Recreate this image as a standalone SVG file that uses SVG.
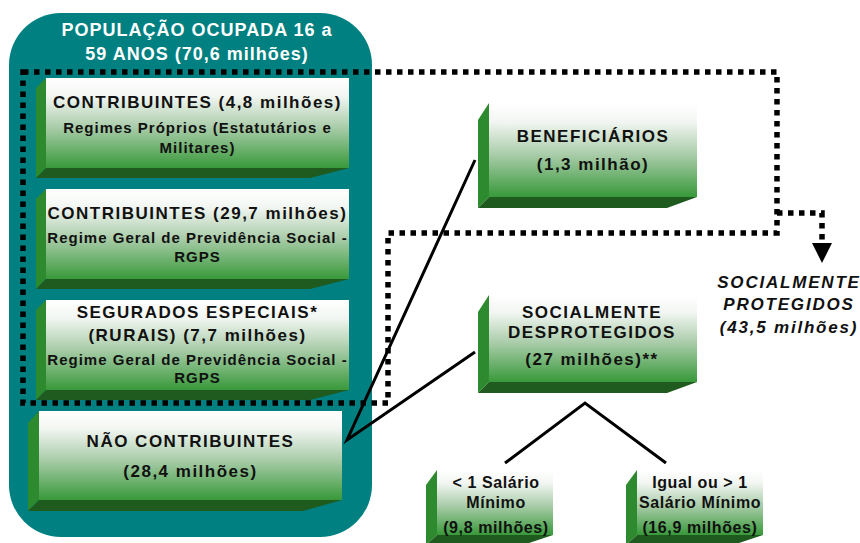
<svg xmlns="http://www.w3.org/2000/svg" width="860" height="543" viewBox="0 0 860 543">
<defs>
<linearGradient id="face" x1="0" y1="0" x2="0" y2="1">
<stop offset="0" stop-color="#ffffff"/>
<stop offset="0.2" stop-color="#f2f6f2"/>
<stop offset="0.55" stop-color="#a9cca9"/>
<stop offset="1" stop-color="#38993a"/>
</linearGradient>
<style>
.face{fill:url(#face)}
.lb{fill:#2e8a2e}
.bb{fill:#1f5b1f}
text{font-family:"Liberation Sans",Arial,sans-serif;font-weight:bold;fill:#111;text-anchor:middle}
.h{font-size:17px;letter-spacing:1.5px}
.s{font-size:15px;letter-spacing:1px}
.m{font-size:16px;letter-spacing:0.6px}
.t{font-size:18px;letter-spacing:1px;fill:#fff}
.p{font-size:17px;letter-spacing:1.8px;font-style:italic}
.ln{stroke:#000;stroke-width:3;fill:none}
.dot{stroke:#000;stroke-width:5.5;fill:none;stroke-dasharray:5.5 5.5}
</style>
</defs>
<g id="populacao">
<rect x="9" y="13" width="363" height="524" rx="52" ry="52" fill="#008080"/>
<text class="t" x="197" y="36">POPULAÇÃO OCUPADA 16 a</text>
<text class="t" x="197" y="60">59 ANOS (70,6 milhões)</text>
</g>
<g id="contrib1">
<polygon class="lb" points="46,78 36,88 36,178 46,168"/>
<polygon class="bb" points="36,178 46,168 349,168 310,178"/>
<rect class="face" x="46" y="78" width="303" height="90"/>
<text class="h" x="197.5" y="108">CONTRIBUINTES (4,8 milhões)</text>
<text class="s" x="197.5" y="133">Regimes Próprios (Estatutários e</text>
<text class="s" x="197.5" y="153">Militares)</text>
</g>
<g id="contrib2">
<polygon class="lb" points="46,189 36,199 36,289 46,279"/>
<polygon class="bb" points="36,289 46,279 349,279 310,289"/>
<rect class="face" x="46" y="189" width="303" height="90"/>
<text class="h" x="197.5" y="219">CONTRIBUINTES (29,7 milhões)</text>
<text class="s" x="197.5" y="243">Regime Geral de Previdência Social -</text>
<text class="s" x="197.5" y="262">RGPS</text>
</g>
<g id="segurados">
<polygon class="lb" points="46,300 36,310 36,400 46,390"/>
<polygon class="bb" points="36,400 46,390 349,390 310,400"/>
<rect class="face" x="46" y="300" width="303" height="90"/>
<text class="h" x="197.5" y="318">SEGURADOS ESPECIAIS*</text>
<text class="h" x="197.5" y="341">(RURAIS) (7,7 milhões)</text>
<text class="s" x="197.5" y="365">Regime Geral de Previdência Social -</text>
<text class="s" x="197.5" y="383">RGPS</text>
</g>
<g id="naocontrib">
<polygon class="lb" points="39,411 28,423 28,511 39,500"/>
<polygon class="bb" points="28,511 39,500 342,500 303,511"/>
<rect class="face" x="39" y="411" width="303" height="89"/>
<text class="h" x="190.5" y="447">NÃO CONTRIBUINTES</text>
<text class="h" x="190.5" y="477">(28,4 milhões)</text>
</g>
<g id="beneficiarios">
<polygon class="lb" points="489,103 478,120 478,208 489,197"/>
<polygon class="bb" points="478,208 489,197 697,197 667,208"/>
<rect class="face" x="489" y="103" width="208" height="94"/>
<text class="h" x="593" y="142">BENEFICIÁRIOS</text>
<text class="h" x="593" y="170">(1,3 milhão)</text>
</g>
<g id="desprotegidos">
<polygon class="lb" points="489,295 478,312 478,393 489,382"/>
<polygon class="bb" points="478,393 489,382 697,382 667,393"/>
<rect class="face" x="489" y="295" width="208" height="87"/>
<text class="h" x="592" y="318">SOCIALMENTE</text>
<text class="h" x="592" y="338">DESPROTEGIDOS</text>
<text class="h" x="592" y="365">(27 milhões)**</text>
</g>
<g id="menor1">
<polygon class="lb" points="437,470 426,485 426,545 437,535"/>
<polygon class="bb" points="426,545 437,535 553,535 523,545"/>
<rect class="face" x="437" y="470" width="116" height="65"/>
<text class="m" x="496" y="488">&lt; 1 Salário</text>
<text class="m" x="496" y="508">Mínimo</text>
<text class="m" x="496" y="533">(9,8 milhões)</text>
</g>
<g id="maior1">
<polygon class="lb" points="637,470 626,485 626,545 637,535"/>
<polygon class="bb" points="626,545 637,535 763,535 733,545"/>
<rect class="face" x="637" y="470" width="126" height="65"/>
<text class="m" x="700" y="488">Igual ou &gt; 1</text>
<text class="m" x="700" y="508">Salário Mínimo</text>
<text class="m" x="700" y="533">(16,9 milhões)</text>
</g>
<g id="protegidos">
<text class="p" x="789" y="288">SOCIALMENTE</text>
<text class="p" x="789" y="310">PROTEGIDOS</text>
<text class="p" x="789" y="333">(43,5 milhões)</text>
</g>
<g id="connectors">
<polyline class="ln" points="475,160 347,440 475,352"/>
<polyline class="ln" points="505,463 585,403 666,463"/>
<path class="dot" d="M23,72 H777 V233 H388 V403 H23 Z"/>
<path class="dot" d="M777,213 H822 V242"/>
<polygon points="812,243 832,243 822,263" fill="#000"/>
</g>
</svg>
